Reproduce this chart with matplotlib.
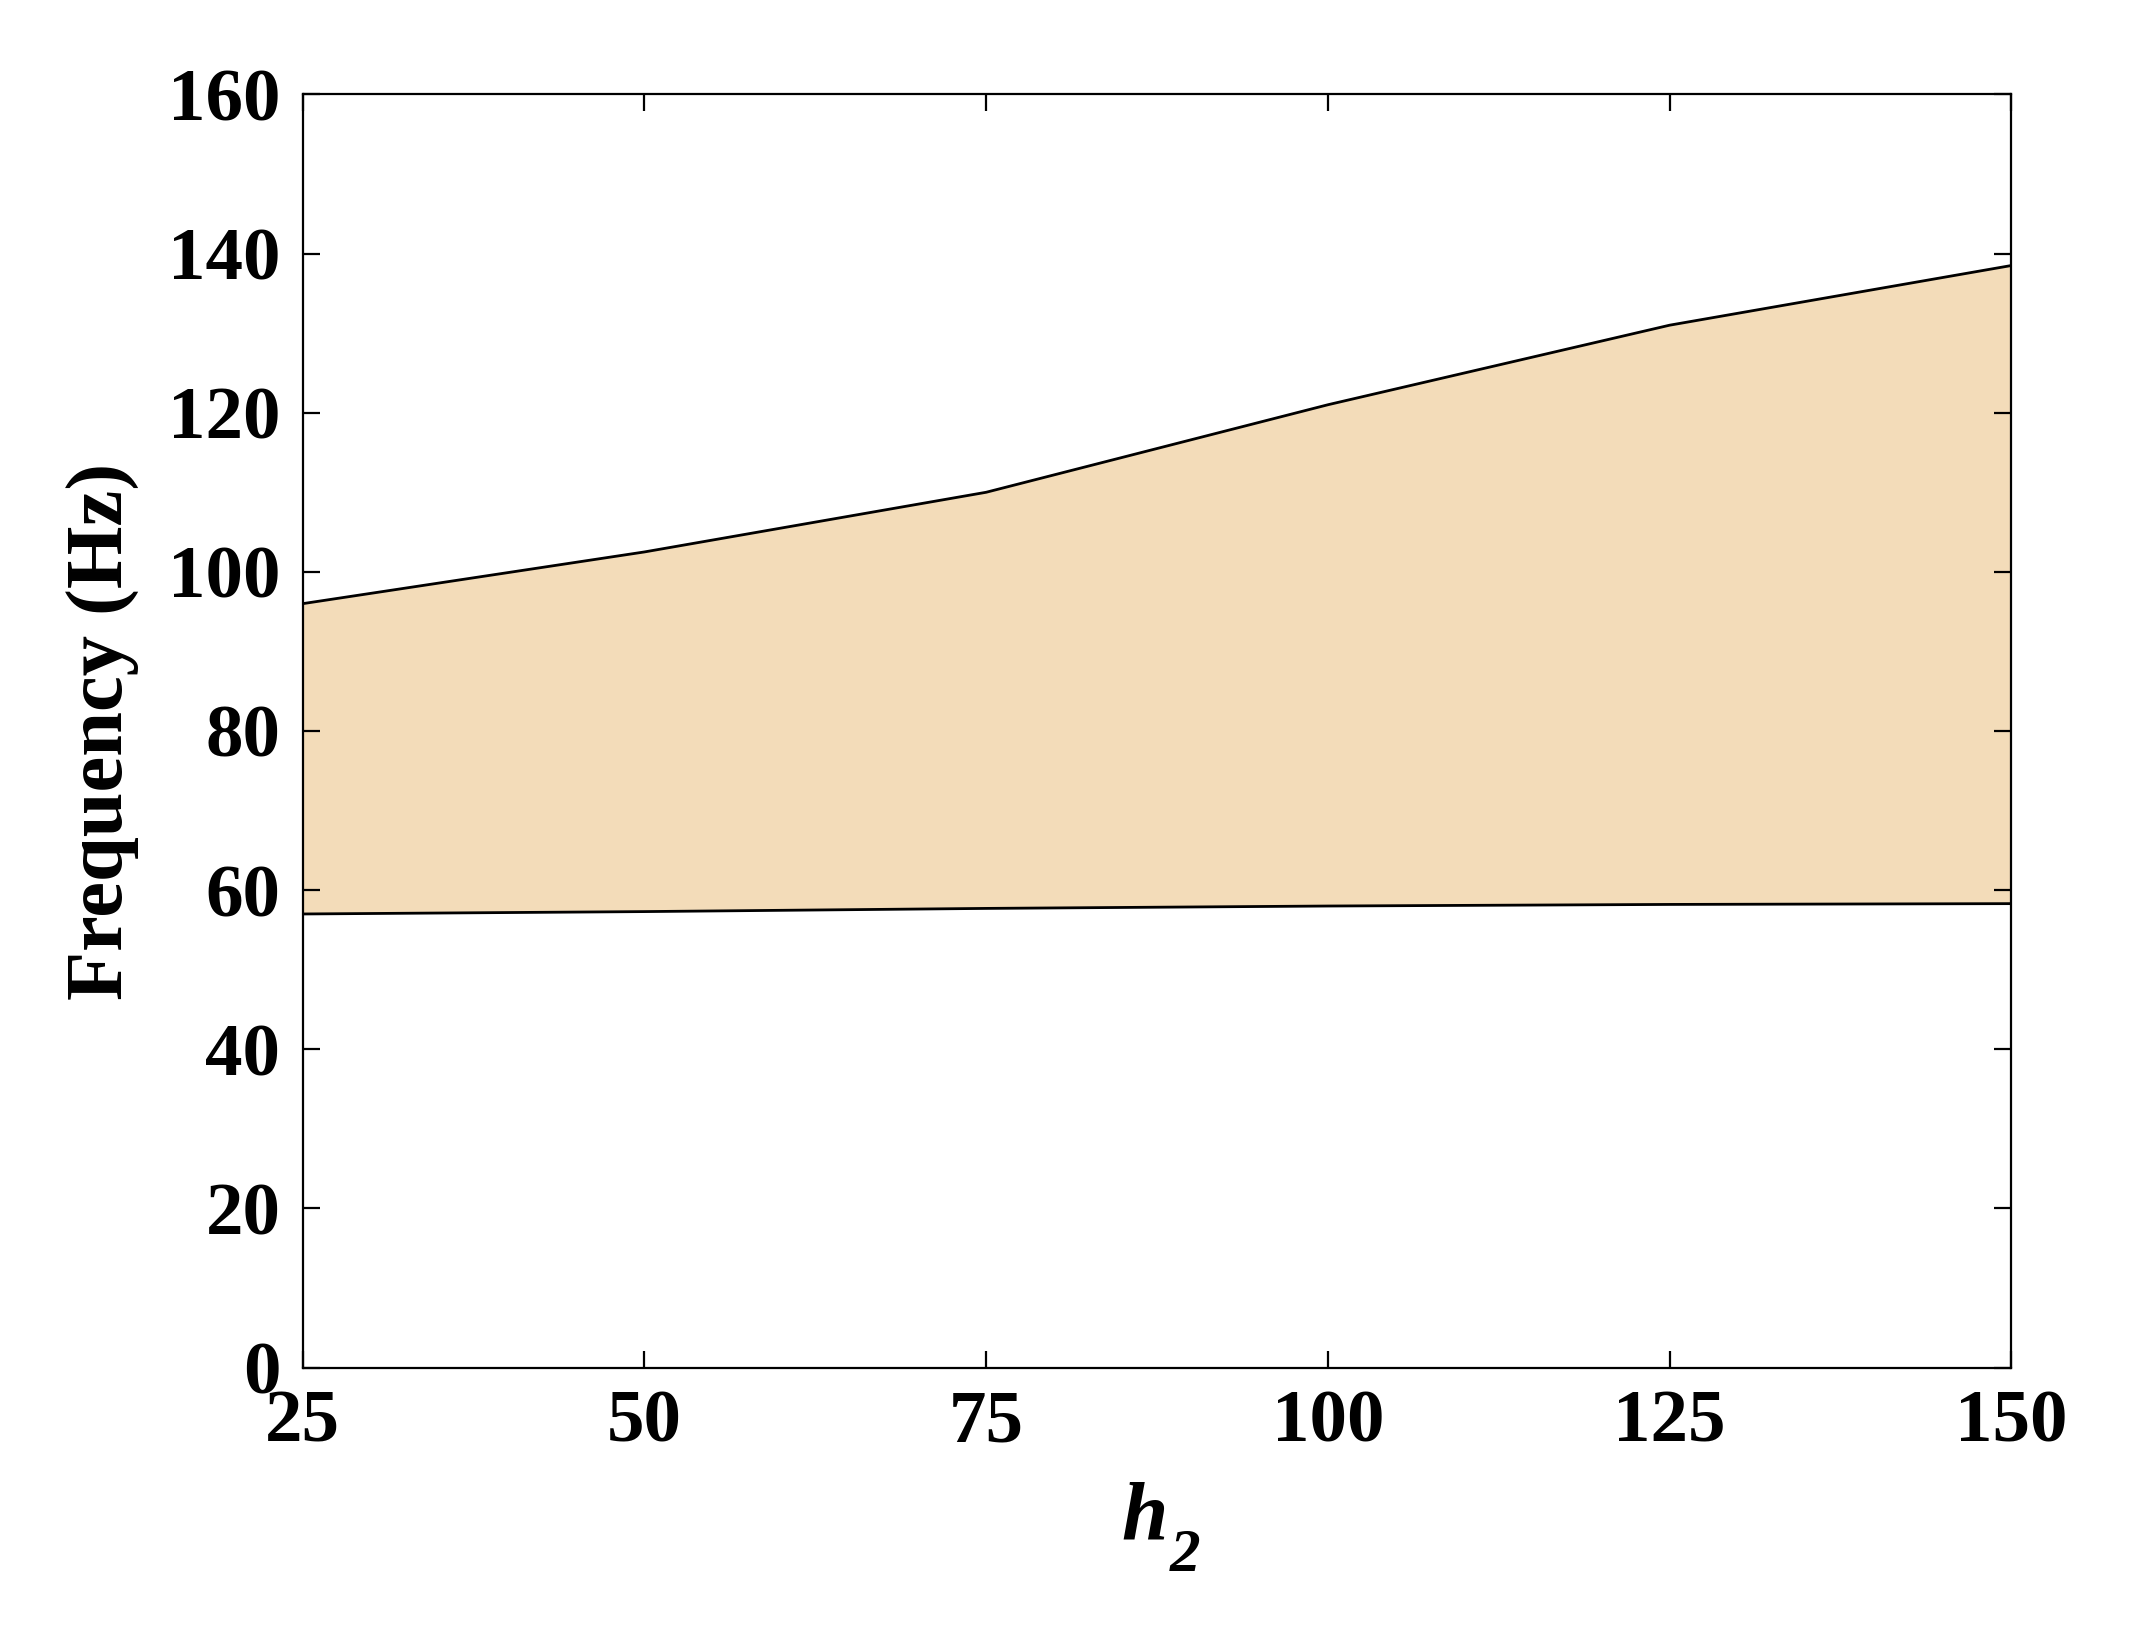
import matplotlib
matplotlib.use("Agg")
import matplotlib.pyplot as plt

h2 = [25, 50, 75, 100, 125, 150]
upper = [96, 102.5, 110, 121, 131, 138.5]
lower = [57, 57.3, 57.7, 58, 58.2, 58.3]

plt.rcParams['font.family'] = ['Liberation Serif', 'DejaVu Serif']
plt.rcParams['font.weight'] = 'bold'
fig = plt.figure(figsize=(10.68, 8.14), dpi=200)
ax = fig.add_axes([0.1417, 0.16, 0.800, 0.782])
ax.fill_between(h2, lower, upper, color='#F3DCB9', lw=0)
ax.plot(h2, upper, color='black', lw=1)
ax.plot(h2, lower, color='black', lw=1)
ax.set_xlim(25, 150)
ax.set_ylim(0, 160)
ax.set_xticks(h2)
ax.set_yticks(range(0, 161, 20))
ax.tick_params(direction='in', top=True, right=True, labelsize=27, length=6, width=0.8, pad=8)
for s in ax.spines.values():
    s.set_linewidth(0.8)
for lab in ax.get_xticklabels() + ax.get_yticklabels():
    lab.set_fontweight('bold')
ax.set_ylabel('Frequency (Hz)', fontsize=29, fontweight='bold', labelpad=10)
fig.text(0.5466 + 0.0, 0.055, 'h', fontsize=30, fontweight='bold', style='italic', ha='right', va='baseline')
fig.text(0.5476, 0.035, '2', fontsize=22, fontweight='bold', style='italic', ha='left', va='baseline')
fig.savefig('out.png', dpi=200)
